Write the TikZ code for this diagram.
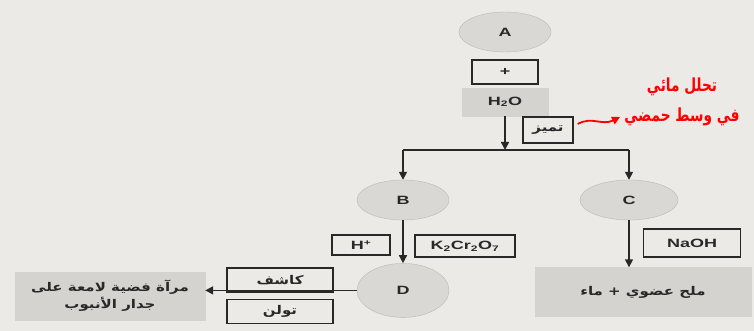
\documentclass[tikz,border=0pt]{standalone}
\usepackage{fontspec}
\setmainfont{Liberation Sans}[FakeStretch=1.5]
\newfontfamily\arabicfont[Script=Arabic,FakeStretch=1.25]{DejaVu Sans}
\newfontfamily\notefont[Script=Arabic,FakeStretch=0.76]{DejaVu Sans}
\TeXXeTstate=1
\usetikzlibrary{shapes.geometric,arrows.meta,positioning}
\definecolor{paper}{RGB}{236,234,230}
\definecolor{ellgray}{RGB}{218,216,213}
\definecolor{boxgray}{RGB}{212,211,208}
\definecolor{ink}{RGB}{40,40,40}

\begin{document}
\begin{tikzpicture}[
  x=1pt, y=-1pt,
  ell/.style={ellipse, draw=gray!55, fill=ellgray, minimum width=92pt,
    minimum height=40pt, font=\bfseries\fontsize{12}{14}\selectfont, text=ink},
  box/.style={draw=ink, line width=1.4pt, fill=paper, inner sep=2pt,
    font=\bfseries\fontsize{12}{14}\selectfont, text=ink},
  gbox/.style={draw=gray!35, fill=boxgray, inner sep=2pt,
    font=\bfseries\fontsize{12}{17}\selectfont, text=ink, align=center},
  arr/.style={draw=ink, line width=1.5pt, -{Triangle[length=8pt,width=8pt]}},
  link/.style={draw=ink, line width=1.5pt},
  redarr/.style={draw=red, line width=1.8pt, -{Triangle[length=8pt,width=8pt]}}
]
\useasboundingbox[fill=paper] (0,0) rectangle (754,331);

\node[ell] (A) at (505,32) {A};
\node[box, minimum width=66pt, minimum height=24pt, below=7pt of A] (plus) {+};
\node[gbox, minimum width=86pt, minimum height=28pt, below=3pt of plus] (water) {H\textsubscript{2}O};
\coordinate (split) at (505,150);
\node[box, minimum width=50pt, minimum height=26pt] (hint) at (548,130) {\arabicfont\beginR تميز\endR};

% red note
\node[text=red, align=center, font=\notefont\bfseries\fontsize{18}{30}\selectfont] (note) at (682,102)
  {\beginR تحلل مائي\endR\\\beginR في وسط حمضي\endR};
\coordinate (tip) at (620,117);
\draw[redarr] ([xshift=4pt,yshift=6pt]hint.east) .. controls (592,116) and (602,126) .. (tip);

\node[ell] (B) at (403,200) {B};
\node[ell, minimum width=98pt] (C) at (629,200) {C};
\node[ell, minimum height=54pt, below=43pt of B] (D) {D};

\node[box, minimum width=58pt, minimum height=20pt] (acid) at (361,245) {H\textsuperscript{+}};
\node[box, minimum width=100pt, minimum height=22pt] (oxid) at (465,246) {K\textsubscript{2}Cr\textsubscript{2}O\textsubscript{7}};
\node[box, minimum width=97pt, minimum height=28pt] (base) at (692,243) {NaOH};

\node[gbox, minimum width=216pt, minimum height=49pt] (salt) at (643,292) {\arabicfont\beginR ملح عضوي + ماء\endR};
\node[gbox, minimum width=190pt, minimum height=48pt] (mirror) at (110,296)
  {\arabicfont\beginR مرآة فضية لامعة على\endR\\\arabicfont\beginR جدار الأنبوب\endR};
\node[box, minimum width=106pt, minimum height=24pt] (reag) at (280,280) {\arabicfont\beginR كاشف\endR};
\node[box, minimum width=106pt, minimum height=24pt, below=6pt of reag] (tollens) {\arabicfont\beginR تولن\endR};

\draw[arr] (water) -- (split);
\draw[link] (B.north |- split) -- (C.north |- split);
\draw[arr] (B.north |- split) -- (B.north);
\draw[arr] (C.north |- split) -- (C.north);
\draw[arr] (B) -- (D);
\draw[arr] (C.south) -- (C.south |- salt.north);
\draw[arr] (D.west) -- (D.west -| mirror.east);
\end{tikzpicture}
\end{document}
